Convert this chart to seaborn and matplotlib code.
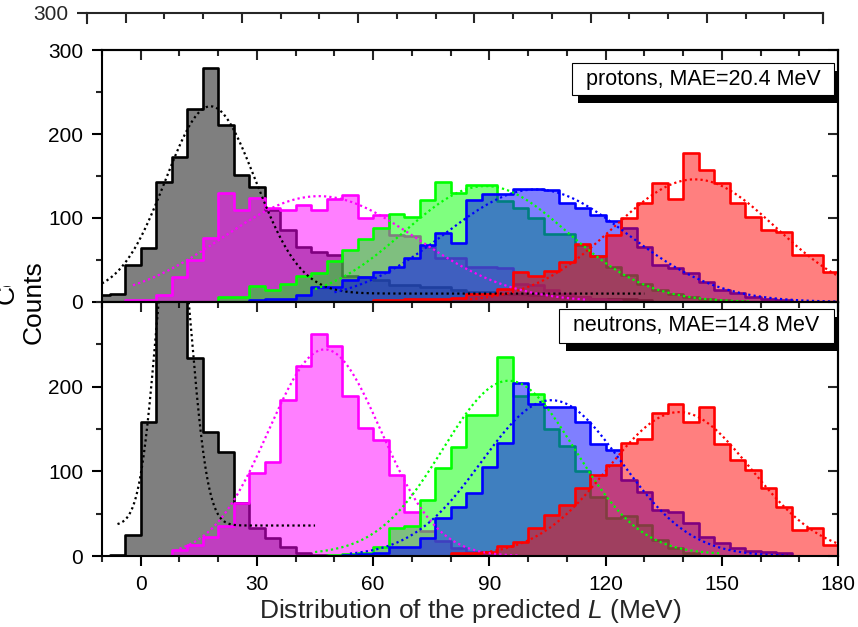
import numpy as np
import pandas as pd
import matplotlib
matplotlib.use("Agg")
import matplotlib.pyplot as plt
from matplotlib.patches import Rectangle
from matplotlib.ticker import MultipleLocator, FixedLocator, NullFormatter
from matplotlib.transforms import Bbox
import seaborn as sns

# ---------------------------------------------------------------
# Histogram counts per 4 MeV bin; *_start is the left edge of the
# first bin (MeV).  Order of series: black, magenta, green, blue, red
# ---------------------------------------------------------------
BIN_WIDTH = 4

# protons (upper panel)
p_black_start = -12
p_black = [8, 10, 44, 64, 143, 173, 230, 279, 211, 151, 137, 109, 86, 65, 60, 56,
           31, 30, 26, 20, 20, 18, 18, 14, 12, 12, 10, 10, 8, 8, 6, 6, 4, 4, 3, 2]
p_magenta_start = -4
p_magenta = [2, 2, 8, 30, 50, 76, 130, 110, 124, 112, 110, 115, 110, 123, 127, 100,
             104, 80, 78, 65, 52, 52, 42, 42, 40, 22, 20, 14, 10, 6, 4, 2]
p_green_start = 20
p_green = [6, 6, 19, 14, 22, 31, 34, 49, 62, 75, 88, 105, 101, 121, 143, 130, 139,
           139, 120, 112, 100, 81, 81, 68, 55, 42, 32, 22, 14, 10, 6, 4, 2, 1]
p_blue_start = 28
p_blue = [2, 3, 4, 8, 18, 18, 26, 30, 36, 42, 52, 68, 82, 70, 122, 129, 129, 135,
          135, 133, 118, 112, 104, 96, 88, 66, 44, 40, 35, 24, 14, 11, 6, 4, 2]
p_red_start = 60
p_red = [2, 2, 3, 3, 4, 5, 10, 10, 16, 36, 31, 37, 48, 69, 55, 80, 100, 118, 142,
         123, 177, 157, 142, 118, 101, 86, 83, 56, 56, 36]

# neutrons (lower panel)
n_black_start = -8
n_black = [1, 25, 158, 380, 400, 234, 146, 123, 63, 33, 21, 11, 4, 1]
n_magenta_start = 8
n_magenta = [7, 13, 22, 35, 63, 98, 111, 184, 224, 262, 248, 189, 151, 137, 96, 52,
             30, 18, 10, 5, 2]
n_green_start = 48
n_green = [1, 2, 3, 11, 33, 35, 66, 104, 129, 166, 166, 235, 189, 191, 150, 130,
           100, 70, 45, 47, 37, 19, 9, 3]
n_blue_start = 52
n_blue = [1, 2, 3, 11, 11, 21, 45, 58, 74, 105, 133, 204, 179, 176, 176, 158, 132,
          125, 90, 76, 54, 52, 39, 22, 15, 9, 6, 5, 4]
n_red_start = 80
n_red = [3, 3, 5, 12, 17, 33, 48, 60, 80, 96, 107, 133, 138, 169, 179, 158, 176,
         132, 113, 101, 80, 58, 31, 33, 13]

# Gaussian fits: offset, amplitude, centre, sigma, x from, x to
p_fit_black = [10, 223, 18, 11.6, -10, 130]
p_fit_magenta = [0, 126, 46, 25, -2, 115]
p_fit_green = [0, 138, 89, 21, 45, 157]
p_fit_blue = [0, 134, 102, 23.5, 50, 180]
p_fit_red = [0, 146, 143, 21, 85, 180]

n_fit_black = [36, 390, 8.5, 4.4, -6, 45]
n_fit_magenta = [0, 244, 47.5, 14.5, 10, 98]
n_fit_green = [2, 205, 95, 17, 45, 150]
n_fit_blue = [0, 184, 106, 18, 54, 167]
n_fit_red = [0, 170, 139, 18.5, 82, 180]

colors = ["#000000", "#ff00ff", "#00ff00", "#0000ff", "#ff0000"]

x_ticks = [0, 30, 60, 90, 120, 150, 180]
top_label = "protons, MAE=20.4 MeV"
bottom_label = "neutrons, MAE=14.8 MeV"

# ---------------------------------------------------------------
sns.set_theme(style="ticks")
plt.rcParams["font.family"] = ["Liberation Sans", "DejaVu Sans"]
plt.rcParams["mathtext.fontset"] = "custom"
plt.rcParams["mathtext.it"] = "Liberation Sans:italic"
plt.rcParams["mathtext.rm"] = "Liberation Sans"
plt.rcParams["axes.linewidth"] = 1.5

TICK_FS = 15
W, H = 858, 627
fig = plt.figure(figsize=(W / 100, H / 100), dpi=100)


def fig_rect(left, top, right, bottom):
    return [left / W, 1 - bottom / H, (right - left) / W, (bottom - top) / H]


# panel left over from an earlier layout, peeking out above the upper panel
ghost = fig.add_axes(fig_rect(87, 13, 823, 23))
ghost.set_xlim(-10, 180)
ghost.set_ylim(300 - 10 / 0.84, 300)
ghost.patch.set_alpha(0)
ghost.spines["bottom"].set_visible(False)
ghost.xaxis.set_major_locator(MultipleLocator(30))
ghost.xaxis.set_minor_locator(MultipleLocator(10))
ghost.yaxis.set_major_locator(FixedLocator([300]))
ghost.tick_params(axis="x", which="both", bottom=False, top=True, direction="in",
                  labelbottom=False, width=1.5)
ghost.tick_params(axis="x", which="major", length=7.5)
ghost.tick_params(axis="x", which="minor", length=4.3)
ghost.tick_params(axis="y", which="major", direction="out", length=7.5, width=1.5,
                  labelsize=TICK_FS, pad=6)

ax_top = fig.add_axes(fig_rect(102, 50, 838, 302))
ax_bot = fig.add_axes(fig_rect(102, 302, 838, 556))


def draw_hist(ax, start, counts, color):
    counts = np.asarray(counts, dtype=float)
    edges = start + BIN_WIDTH * np.arange(len(counts) + 1)
    df = pd.DataFrame({"center": edges[:-1] + BIN_WIDTH / 2, "count": counts})
    sns.histplot(data=df, x="center", weights="count", bins=list(edges),
                 element="step", fill=True, color=color, alpha=0.5,
                 linewidth=1.9, ax=ax)


def draw_fit(ax, fit, color):
    y0, amp, xc, sig, lo, hi = fit
    xs = np.linspace(lo, hi, 500)
    ys = y0 + amp * np.exp(-0.5 * ((xs - xc) / sig) ** 2)
    ax.plot(xs, ys, color=color, lw=1.6, linestyle=(0, (1, 1.4)), zorder=4)


def style(ax, yticks, show_xlabels):
    ax.set_xlim(-10, 180)
    ax.set_ylim(0, 300)
    ax.set_xlabel("")
    ax.set_ylabel("")
    ax.xaxis.set_major_locator(FixedLocator(x_ticks))
    ax.xaxis.set_minor_locator(MultipleLocator(10))
    ax.yaxis.set_major_locator(FixedLocator(yticks))
    ax.yaxis.set_minor_locator(MultipleLocator(50))
    ax.tick_params(which="major", direction="out", length=7.5, width=1.5,
                   labelsize=TICK_FS, pad=6, colors="black")
    ax.tick_params(which="minor", direction="out", length=4.3, width=1.5)
    if not show_xlabels:
        ax.xaxis.set_major_formatter(NullFormatter())
    for sp in ax.spines.values():
        sp.set_visible(True)
        sp.set_linewidth(1.5)
        sp.set_color("black")
        sp.set_zorder(5)
    sec_x = ax.secondary_xaxis("top")
    sec_x.xaxis.set_major_locator(FixedLocator(x_ticks))
    sec_x.xaxis.set_minor_locator(MultipleLocator(10))
    sec_x.tick_params(which="both", direction="in", labeltop=False, width=1.5)
    sec_x.tick_params(which="major", length=7.5)
    sec_x.tick_params(which="minor", length=4.3)
    sec_y = ax.secondary_yaxis("right")
    sec_y.yaxis.set_major_locator(FixedLocator([0, 100, 200, 300]))
    sec_y.yaxis.set_minor_locator(MultipleLocator(50))
    sec_y.tick_params(which="both", direction="in", labelright=False, width=1.5)
    sec_y.tick_params(which="major", length=7.5)
    sec_y.tick_params(which="minor", length=4.3)
    for sec in (sec_x, sec_y):
        for sp in sec.spines.values():
            sp.set_linewidth(1.5)


def label_box(ax, x0, y0, x1, y1, text, dx, dy):
    ax.add_patch(Rectangle((x0 + dx, y0 - dy), x1 - x0, y1 - y0, transform=ax.transAxes,
                           facecolor="black", edgecolor="none", zorder=6))
    ax.add_patch(Rectangle((x0, y0), x1 - x0, y1 - y0, transform=ax.transAxes,
                           facecolor="white", edgecolor="black", lw=0.8, zorder=7))
    ax.text((x0 + x1) / 2, (y0 + y1) / 2, text, transform=ax.transAxes,
            ha="center", va="center", fontsize=15.5, color="black", zorder=8)


top_hists = [(p_black_start, p_black), (p_magenta_start, p_magenta),
             (p_green_start, p_green), (p_blue_start, p_blue), (p_red_start, p_red)]
bot_hists = [(n_black_start, n_black), (n_magenta_start, n_magenta),
             (n_green_start, n_green), (n_blue_start, n_blue), (n_red_start, n_red)]
top_fits = [p_fit_black, p_fit_magenta, p_fit_green, p_fit_blue, p_fit_red]
bot_fits = [n_fit_black, n_fit_magenta, n_fit_green, n_fit_blue, n_fit_red]

for ax, hists, fits in ((ax_top, top_hists, top_fits), (ax_bot, bot_hists, bot_fits)):
    for (start, counts), c in zip(hists, colors):
        draw_hist(ax, start, counts, c)
    for fit, c in zip(fits, colors):
        draw_fit(ax, fit, c)

style(ax_top, [0, 100, 200, 300], show_xlabels=False)
style(ax_bot, [0, 100, 200], show_xlabels=True)

label_box(ax_top, (572 - 102) / 736, (302 - 95) / 252, (834 - 102) / 736,
          (302 - 63) / 252, top_label, 6 / 736, 8 / 252)
label_box(ax_bot, (559 - 102) / 736, (556 - 343) / 254, (834 - 102) / 736,
          (556 - 309) / 254, bottom_label, 7 / 736, 8 / 254)

ax_bot.set_xlabel("Distribution of the predicted $L$ (MeV)", fontsize=19, labelpad=2)

fig.text(34 / W, 1 - 302 / H, "Counts", rotation=90, ha="center", va="center",
         fontsize=19, color="black")

# clipped remnant of the earlier layout's axis title
stub = fig.text(7 / W, 1 - 262 / H, "Counts", rotation=90, ha="center",
                va="center", fontsize=19, color="black")
stub.set_clip_box(Bbox.from_extents(0, H - 310, 20, H - 286))
stub.set_clip_on(True)

fig.savefig("out.png", dpi=100)
